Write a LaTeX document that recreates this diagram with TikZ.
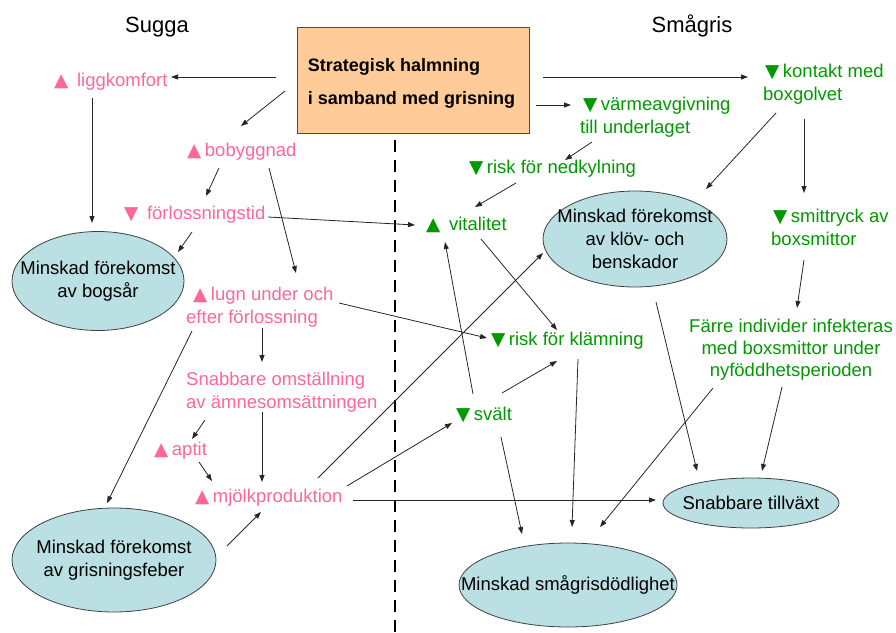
\documentclass[tikz,border=0pt]{standalone}
\usepackage{fontspec}
\setmainfont{Liberation Sans}
\newfontfamily\symfont{DejaVu Sans}
\newcommand\triup{{\symfont ▲}\hspace{3.5pt}}
\newcommand\tridn{{\symfont ▼}\hspace{3.5pt}}
\usetikzlibrary{shapes.geometric,arrows.meta}
\definecolor{pinkt}{HTML}{FF6699}
\definecolor{greent}{HTML}{009900}
\definecolor{ellfill}{HTML}{BBE0E3}
\definecolor{boxfill}{HTML}{FFCC99}
\begin{document}
\begin{tikzpicture}[x=1pt,y=-1pt,
  lbl/.style={inner sep=0pt, anchor=base west, font=\fontsize{18.5}{23}\selectfont, align=left},
  pinklbl/.style={lbl, text=pinkt},
  greenlbl/.style={lbl, text=greent},
  oval/.style={ellipse, draw=black!75, fill=ellfill, line width=0.8pt, inner sep=-80pt, font=\fontsize{18.5}{23}\selectfont, align=center},
  arr/.style={-{Triangle[length=7pt,width=5pt]}, line width=0.8pt, draw=black!85},
  head/.style={font=\fontsize{22}{26}\selectfont, anchor=base, inner sep=0pt},
  divider/.style={line width=2.5pt, dash pattern=on 12pt off 8pt}]
\useasboundingbox (0,0) rectangle (896,632);

% headings
\node[head] (sugga) at (157,32) {Sugga};
\node[head] (smagris) at (692,32) {Smågris};

% central box
\node[draw=black!70, fill=boxfill, line width=0.8pt, minimum width=232pt, minimum height=106pt,
      font=\fontsize{18}{33}\selectfont\bfseries, align=left] (box) at (413,80)
      {\rule{0pt}{19pt}\hspace*{-3pt}Strategisk halmning\\\hspace*{-3pt}i samband med grisning};

\draw[divider] (395,140) -- (395,632);

% sow side (pink); multi-line nodes are anchored at their last baseline
\node[pinklbl] (ligg) at (54,86) {\triup\ liggkomfort};
\node[pinklbl] (boby) at (187,156) {\triup bobyggnad};
\node[pinklbl] (forl) at (124,219) {\tridn\ förlossningstid};
\node[pinklbl] (lugn) at (186,323) {\hspace*{7pt}\triup lugn under och\\efter förlossning};
\node[pinklbl] (snab) at (186,408) {Snabbare omställning\\av ämnesomsättningen};
\node[pinklbl] (aptit) at (154,455) {\triup aptit};
\node[pinklbl] (mjolk) at (195,502) {\triup mjölkproduktion};

% piglet side (green)
\node[greenlbl] (varme) at (580,133) {\hspace*{3pt}\tridn värmeavgivning\\till underlaget};
\node[greenlbl] (nedk) at (469,173) {\tridn risk för nedkylning};
\node[greenlbl] (vital) at (426,230) {\triup\ vitalitet};
\node[greenlbl] (kontakt) at (763,100) {\hspace*{2pt}\tridn kontakt med\\boxgolvet};
\node[greenlbl] (smitt) at (771,245) {\hspace*{2pt}\tridn smittryck av\\boxsmittor};
\node[greenlbl, anchor=base, align=center, font=\fontsize{18.5}{22}\selectfont] (farre) at (791,376) {Färre individer infekteras\\med boxsmittor under\\nyföddhetsperioden};
\node[greenlbl] (klam) at (491,345) {\tridn risk för klämning};
\node[greenlbl] (svalt) at (456,420) {\tridn svält};

% outcome ellipses
\node[oval, minimum width=172pt, minimum height=99pt] (bog) at (98,281) {Minskad förekomst\\av bogsår};
\node[oval, minimum width=184pt, minimum height=96pt] (klov) at (635,239) {Minskad förekomst\\av klöv- och\\benskador};
\node[oval, minimum width=204pt, minimum height=104pt] (gris) at (114,560) {Minskad förekomst\\av grisningsfeber};
\node[oval, minimum width=218pt, minimum height=84pt] (dod) at (568,585) {Minskad smågrisdödlighet};
\node[oval, minimum width=176pt, minimum height=50pt] (tillv) at (751,503) {Snabbare tillväxt};

% connectors
\draw[arr] ([shift={(-137,-3)}]box.center) -- ([shift={(117,-9)}]ligg.base west);
\draw[arr] ([shift={(-128,11)}]box.center) -- ([shift={(54,-30)}]boby.base west);
\draw[arr] ([shift={(130,-3)}]box.center) -- ([shift={(-15,-23)}]kontakt.base west);
\draw[arr] ([shift={(123,25)}]box.center) -- ([shift={(-9,-28)}]varme.base west);
\draw[arr] ([shift={(12,9)}]varme.base west) -- ([shift={(96,-13)}]nedk.base west);
\draw[arr] ([shift={(47,10)}]nedk.base west) -- ([shift={(49,-23)}]vital.base west);
\draw[arr] ([shift={(13,13)}]kontakt.base west) -- ([shift={(71,-50)}]klov.center);
\draw[arr] ([shift={(41,19)}]kontakt.base west) -- ([shift={(33,-52)}]smitt.base west);
\draw[arr] ([shift={(38,12)}]ligg.base west) -- ([shift={(-6,-58)}]bog.center);
\draw[arr] ([shift={(32,12)}]boby.base west) -- ([shift={(82,-23)}]forl.base west);
\draw[arr] ([shift={(82,12)}]boby.base west) -- ([shift={(110,-50)}]lugn.base west);
\draw[arr] ([shift={(68,13)}]forl.base west) -- ([shift={(80,-29)}]bog.center);
\draw[arr] ([shift={(144,-2)}]forl.base west) -- ([shift={(-11,-5)}]vital.base west);
\draw[arr] ([shift={(153,-20)}]lugn.base west) -- ([shift={(-4,-7)}]klam.base west);
\draw[arr] ([shift={(6,8)}]lugn.base west) -- ([shift={(-7,-57)}]gris.center);
\draw[arr] ([shift={(76,5)}]lugn.base west) -- ([shift={(76,-46)}]snab.base west);
\draw[arr] ([shift={(76,4)}]snab.base west) -- ([shift={(67,-20)}]mjolk.base west);
\draw[arr] ([shift={(19,12)}]snab.base west) -- ([shift={(38,-16)}]aptit.base west);
\draw[arr] ([shift={(45,7)}]aptit.base west) -- ([shift={(17,-21)}]mjolk.base west);
\draw[arr] ([shift={(113,-14)}]gris.center) -- ([shift={(66,10)}]mjolk.base west);
\draw[arr] ([shift={(123,-24)}]mjolk.base west) -- ([shift={(-92,14)}]klov.center);
\draw[arr] ([shift={(152,-16)}]mjolk.base west) -- ([shift={(-4,3)}]svalt.base west);
\draw[arr] ([shift={(158,-2)}]mjolk.base west) -- ([shift={(-95,-3)}]tillv.center);
\draw[arr] ([shift={(17,-26)}]svalt.base west) -- ([shift={(19,12)}]vital.base west);
\draw[arr] ([shift={(55,9)}]vital.base west) -- ([shift={(66,-15)}]klam.base west);
\draw[arr] ([shift={(46,-27)}]svalt.base west) -- ([shift={(66,16)}]klam.base west);
\draw[arr] ([shift={(45,17)}]svalt.base west) -- ([shift={(-46,-51)}]dod.center);
\draw[arr] ([shift={(87,14)}]klam.base west) -- ([shift={(4,-58)}]dod.center);
\draw[arr] ([shift={(21,63)}]klov.center) -- ([shift={(-54,-32)}]tillv.center);
\draw[arr] ([shift={(-78,12)}]farre.base) -- ([shift={(32,-58)}]dod.center);
\draw[arr] ([shift={(-9,11)}]farre.base) -- ([shift={(11,-32)}]tillv.center);
\draw[arr] ([shift={(33,15)}]smitt.base west) -- ([shift={(6,-68)}]farre.base);
\end{tikzpicture}
\end{document}
